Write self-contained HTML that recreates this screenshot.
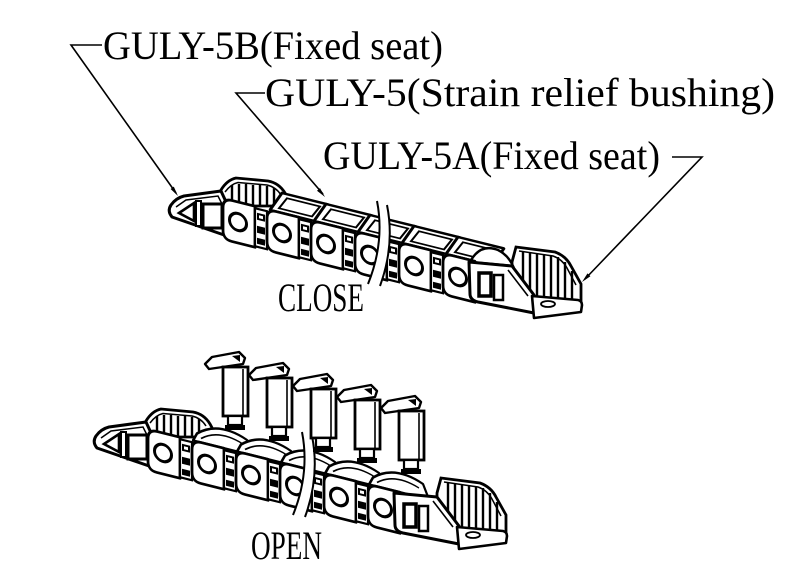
<!DOCTYPE html>
<html>
<head>
<meta charset="utf-8">
<style>
html,body{margin:0;padding:0;background:#fff;}
svg{display:block;}
text{font-family:"Liberation Serif","DejaVu Serif",serif;fill:#000;}
</style>
</head>
<body>
<svg width="800" height="576" viewBox="0 0 800 576" xmlns="http://www.w3.org/2000/svg">
<defs>
  <clipPath id="brk">
    <path d="M0,0 L377,0 L377,203 Q385,242 368,282 L368,600 L0,600 Z M387,0 L800,0 L800,600 L380,600 L380,284 Q395,245 387,207 Z"/>
  </clipPath>

  <g id="plate">
    <path d="M-6,-20 L17,-20 L17,21 L-6,21 Q-15,21 -15,12 L-15,-11 Q-15,-20 -6,-20 Z" fill="#fff" stroke="#000" stroke-width="2.8" stroke-linejoin="round"/>
    <circle cx="0" cy="0" r="8.5" fill="#fff" stroke="#000" stroke-width="3"/>
  </g>

  <g id="teeth">
    <rect x="17" y="-18" width="12" height="38" fill="#fff" stroke="#000" stroke-width="2.2"/>
    <rect x="19" y="-14" width="8" height="7" fill="#000"/>
    <rect x="21" y="-12" width="4" height="3" fill="#fff"/>
    <rect x="19" y="-1" width="8" height="7" fill="#000"/>
    <rect x="19" y="11" width="8" height="6" fill="#000"/>
  </g>

  <g id="ctop">
    <path d="M-12,-20 L34,-20 L46,-40 L0,-40 Z" fill="#fff" stroke="#000" stroke-width="2.6" stroke-linejoin="round"/>
    <path d="M-3,-24 L30,-24 L38,-36 L5,-36 Z" fill="none" stroke="#000" stroke-width="1.8"/>
  </g>

  <g id="otop">
    <path d="M-14,-20 L-10,-28 Q12,-46 40,-34 L46,-20 Z" fill="#fff" stroke="#000" stroke-width="2.4" stroke-linejoin="round"/>
    <path d="M-6,-24 Q12,-38 36,-29" fill="none" stroke="#000" stroke-width="1.5"/>
  </g>

  <g id="back">
    <!-- left rib wall -->
    <path d="M212,204 L221,190 Q227,180 236,178 L268,181 Q279,183 285,193 L292,206 L212,206 Z" fill="#fff" stroke="#000" stroke-width="2.8"/>
    <path d="M225,192 Q231,184 238,182.5 L267,185 Q276,187 281,195" fill="none" stroke="#000" stroke-width="1.5"/>
    <path d="M232,185 V206 M239,184 V206 M246,184 V206 M253,185 V206 M260,185 V206 M267,186 V206 M274,188 V206" stroke="#000" stroke-width="2.4"/>
    <!-- right rib wall -->
    <path d="M512,262 L516,247 L555,252 Q566,256 571,266 L581,284 L581,303 L512,303 Z" fill="#fff" stroke="#000" stroke-width="2.8"/>
    <path d="M519,251 L553,256 Q562,259 567,268 L576,285" fill="none" stroke="#000" stroke-width="1.5"/>
    <path d="M523,251 V298 M530,252 V298 M537,253 V299 M544,254 V299 M551,255 V300 M558,257 V300 M565,262 V300 M572,271 V300" stroke="#000" stroke-width="2.4"/>
  </g>

  <g id="front">
    <!-- left seat side face -->
    <path d="M171,205 Q167,211 172,217 L227,236 L227,204 L221,191 L184,196 Q176,198 171,205 Z" fill="#fff" stroke="#000" stroke-width="3" stroke-linejoin="round"/>
    <path d="M176,207 L186,200 L218,196 L222,204" fill="none" stroke="#000" stroke-width="1.5"/>
    <path d="M179,213 L194,203 L194,221 Z" fill="#fff" stroke="#000" stroke-width="2.6"/>
    <rect x="196" y="201" width="5" height="25" fill="#fff" stroke="#000" stroke-width="2"/>
    <rect x="203" y="204" width="19" height="24" fill="#fff" stroke="#000" stroke-width="3"/>

    <!-- links -->
    <use href="#plate" transform="translate(238,222) skewY(14)"/>
    <use href="#teeth" transform="translate(238,222) skewY(14)"/>
    <use href="#plate" transform="translate(282,233) skewY(14)"/>
    <use href="#teeth" transform="translate(282,233) skewY(14)"/>
    <use href="#plate" transform="translate(326,244) skewY(14)"/>
    <use href="#teeth" transform="translate(326,244) skewY(14)"/>
    <use href="#plate" transform="translate(370,255) skewY(14)"/>
    <use href="#teeth" transform="translate(370,255) skewY(14)"/>
    <use href="#plate" transform="translate(414,266) skewY(14)"/>
    <use href="#teeth" transform="translate(414,266) skewY(14)"/>
    <use href="#plate" transform="translate(458,277) skewY(14)"/>

    <!-- right seat side face -->
    <path d="M469,262 L512,266 L534,295 L534,313 L478,302 Q470,300 470,294 Z" fill="#fff" stroke="#000" stroke-width="3" stroke-linejoin="round"/>
    <rect x="479" y="273" width="12" height="23" fill="#fff" stroke="#000" stroke-width="3.5"/>
    <rect x="494" y="275" width="9" height="25" fill="#fff" stroke="#000" stroke-width="2.5"/>
    <path d="M508,270 L528,296" fill="none" stroke="#000" stroke-width="1.6"/>
    <!-- bottom plate -->
    <path d="M532,296 L578,300 Q582,301 582,305 L581,312 L534,318 Z" fill="#fff" stroke="#000" stroke-width="2.6" stroke-linejoin="round"/>
    <ellipse cx="548" cy="304" rx="7" ry="3" fill="#fff" stroke="#000" stroke-width="1.8"/>
  </g>

  <g id="brkt">
    <path d="M-30,-4 L-23,-11 L4,-16 L10,-10 L8,-4 L-26,1 Z" fill="#fff" stroke="#000" stroke-width="2.4" stroke-linejoin="round"/>
    <path d="M-3,-12 L5,-13 L5,-6 Z" fill="#000"/>
    <rect x="-12" y="-1" width="25" height="49" fill="#fff" stroke="#000" stroke-width="2.8"/>
    <line x1="8" y1="1" x2="8" y2="47" stroke="#000" stroke-width="1.6"/>
    <rect x="-7" y="48" width="14" height="9" fill="#fff" stroke="#000" stroke-width="2.2"/>
    <rect x="-10" y="57" width="20" height="5" fill="#000"/>
  </g>
</defs>

<!-- ===== CLOSE chain ===== -->
<g clip-path="url(#brk)">
  <use href="#back"/>
  <use href="#ctop" transform="translate(282,233) skewY(14)"/>
  <use href="#ctop" transform="translate(326,244) skewY(14)"/>
  <use href="#ctop" transform="translate(370,255) skewY(14)"/>
  <use href="#ctop" transform="translate(414,266) skewY(14)"/>
  <use href="#ctop" transform="translate(458,277) skewY(14)"/>
  <path d="M470,262 Q480,243 498,250 Q508,255 513,266 Z" fill="#fff" stroke="#000" stroke-width="2.4"/>
  <use href="#front"/>
</g>
<path d="M377,201 Q385,242 368,284 M387,205 Q395,245 380,286" fill="none" stroke="#000" stroke-width="2"/>

<!-- ===== OPEN chain ===== -->
<g transform="translate(-75,231)">
  <g clip-path="url(#brk)">
    <use href="#back"/>
    <use href="#otop" transform="translate(282,233) skewY(14)"/>
    <use href="#otop" transform="translate(326,244) skewY(14)"/>
    <use href="#otop" transform="translate(370,255) skewY(14)"/>
    <use href="#otop" transform="translate(414,266) skewY(14)"/>
    <use href="#otop" transform="translate(458,277) skewY(14)"/>
    <use href="#front"/>
  </g>
  <path d="M377,201 Q385,242 368,284 M387,205 Q395,245 380,286" fill="none" stroke="#000" stroke-width="2"/>
</g>

<!-- brackets (strain relief bushings) -->
<use href="#brkt" transform="translate(235,368)"/>
<use href="#brkt" transform="translate(279,379)"/>
<use href="#brkt" transform="translate(323,390)"/>
<use href="#brkt" transform="translate(367,401)"/>
<use href="#brkt" transform="translate(411,412)"/>

<!-- ===== leaders ===== -->
<g fill="none" stroke="#000" stroke-width="1.6">
  <polyline points="102,45 71,45 176,193"/>
  <polyline points="265,93 236,93 323,194"/>
  <polyline points="672,157 702,157 585,279"/>
</g>
<g fill="#000">
  <polygon points="178,196 173.8,186.6 170.6,189.0"/>
  <polygon points="325,197 320.0,188.1 317.0,190.7"/>
  <polygon points="582,282 590.4,276.2 587.5,273.4"/>
</g>

<!-- ===== labels ===== -->
<text x="103" y="59" font-size="40" textLength="340" lengthAdjust="spacingAndGlyphs">GULY-5B(Fixed seat)</text>
<text x="265" y="106" font-size="40" textLength="510" lengthAdjust="spacingAndGlyphs">GULY-5(Strain relief bushing)</text>
<text x="323" y="169" font-size="40" textLength="337" lengthAdjust="spacingAndGlyphs">GULY-5A(Fixed seat)</text>
<text x="278" y="311" font-size="40" textLength="86" lengthAdjust="spacingAndGlyphs">CLOSE</text>
<text x="251" y="559" font-size="40" textLength="71" lengthAdjust="spacingAndGlyphs">OPEN</text>
</svg>
</body>
</html>
